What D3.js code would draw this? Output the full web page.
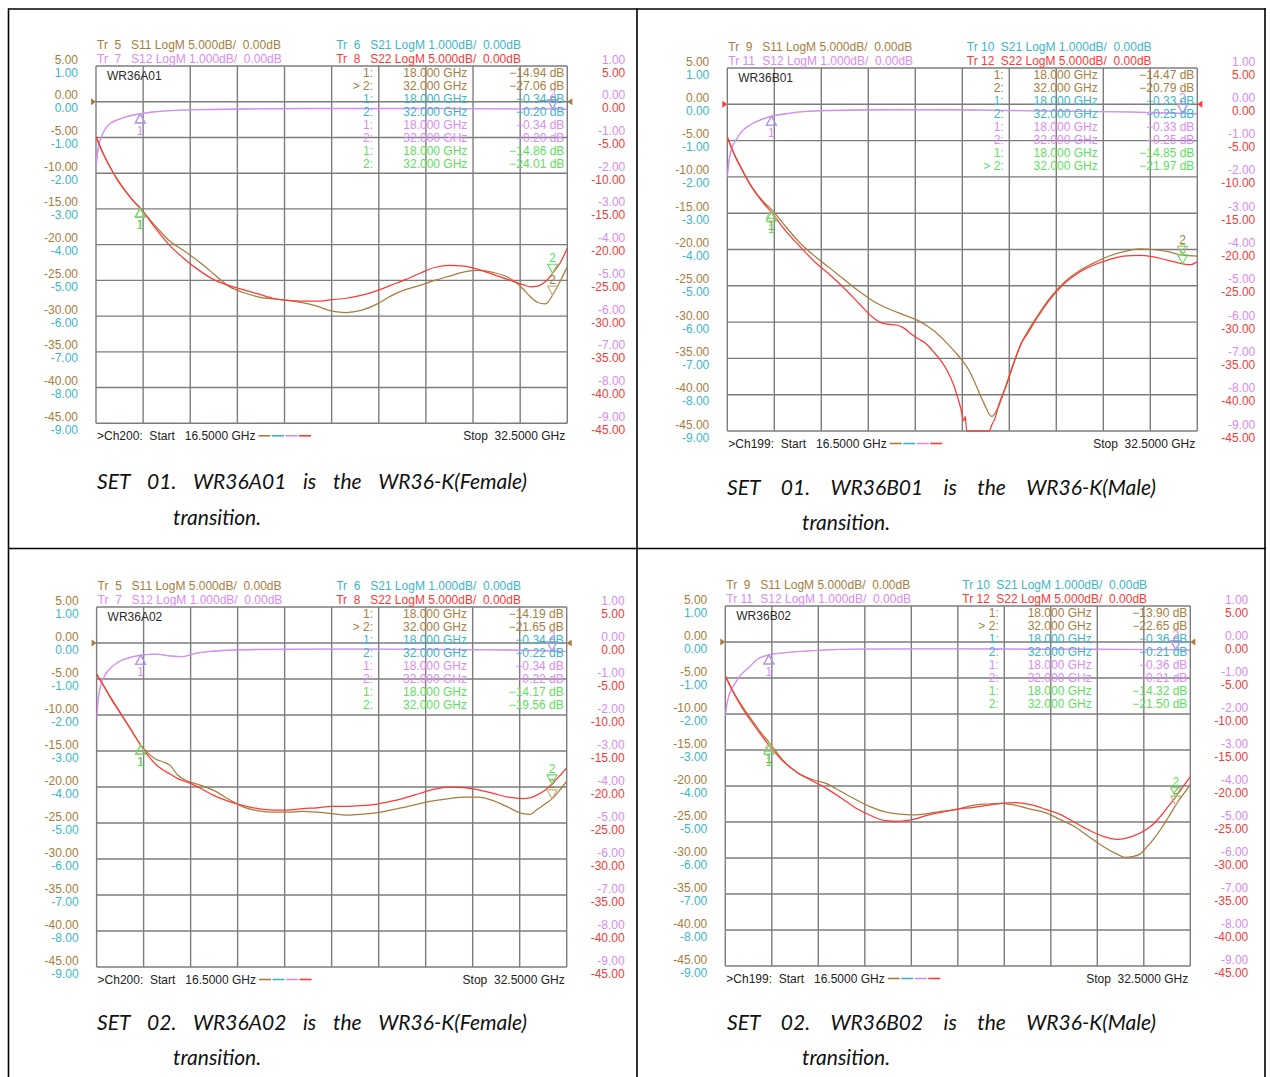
<!DOCTYPE html>
<html>
<head>
<meta charset="utf-8">
<script src="https://cdn.jsdelivr.net/npm/d3@7"></script>
<style>
  html, body { margin: 0; padding: 0; background: #fff; }
  svg text { font-family: "Liberation Sans", Arial, sans-serif; font-size: 12px; white-space: pre; }
  svg text.cap { font-family: Lato, "Open Sans", sans-serif; font-style: italic; font-size: 21px; fill: #111; }
</style>
</head>
<body>
<svg id="chart" width="1270" height="1077"></svg>
<script>
// ---- sweep and scale labels -------------------------------------------
const sweepStart = 16.5, sweepStop = 32.5;          // GHz
const markerFreqs = [18.0, 32.0];                   // GHz, markers 1 and 2
const logMag5Labels = [5, 0, -5, -10, -15, -20, -25, -30, -35, -40, -45]; // S11 / S22, 5 dB/div
const logMag1Labels = [1, 0, -1, -2, -3, -4, -5, -6, -7, -8, -9];          // S21 / S12, 1 dB/div
const paramNames = ["S11", "S21", "S12", "S22"];
const paramScales = ["5.000dB/", "1.000dB/", "1.000dB/", "5.000dB/"];

// ---- WR36A01 (female), traces 5..8 -------------------------------------
const a01S11 = [[16.5,-4.9],[16.75,-7.3],[17.0,-9.3],[17.25,-11.0],[17.5,-12.5],[17.75,-13.8],[18.0,-14.94],[18.5,-17.3],[19.0,-19.5],[19.5,-20.9],[20.0,-22.4],[20.5,-24.1],[21.0,-25.8],[21.5,-26.7],[22.0,-27.3],[22.5,-27.6],[23.0,-27.8],[23.5,-28.1],[24.0,-28.6],[24.5,-29.3],[25.0,-29.5],[25.5,-29.2],[26.0,-28.4],[26.5,-27.2],[27.0,-26.3],[27.5,-25.7],[28.0,-25.0],[28.5,-24.4],[29.0,-23.8],[29.5,-23.6],[30.0,-23.9],[30.5,-24.6],[31.0,-26.2],[31.25,-27.3],[31.5,-28.1],[31.75,-28.3],[32.0,-27.06],[32.25,-25.2],[32.5,-23.1]];
const a01S22 = [[16.5,-4.9],[16.75,-7.3],[17.0,-9.3],[17.25,-11.1],[17.5,-12.5],[17.75,-13.8],[18.0,-14.86],[18.5,-17.6],[19.0,-20.1],[19.5,-22.0],[20.0,-23.6],[20.5,-24.9],[21.0,-25.7],[21.5,-26.3],[22.0,-26.9],[22.5,-27.5],[23.0,-27.8],[23.5,-27.9],[24.0,-27.9],[24.5,-27.7],[25.0,-27.5],[25.5,-27.1],[26.0,-26.5],[26.5,-25.7],[27.0,-24.9],[27.5,-24.0],[28.0,-23.2],[28.5,-22.9],[29.0,-23.0],[29.5,-23.5],[30.0,-24.2],[30.5,-24.9],[31.0,-25.6],[31.25,-25.9],[31.5,-25.8],[31.75,-25.2],[32.0,-24.01],[32.25,-22.6],[32.5,-20.5]];
const a01S12 = [[16.5,-1.85],[16.55,-1.45],[16.6,-1.2],[16.7,-0.95],[16.85,-0.72],[17.0,-0.6],[17.25,-0.5],[17.5,-0.43],[18.0,-0.34],[18.5,-0.28],[19.0,-0.25],[20.0,-0.22],[22.0,-0.2],[24.0,-0.19],[26.0,-0.19],[28.0,-0.19],[30.0,-0.2],[32.0,-0.2],[32.5,-0.21]];
const a01Readouts = [-14.94, -27.06, -0.34, -0.20, -0.34, -0.20, -14.86, -24.01];

// ---- WR36B01 (male), traces 9..12 --------------------------------------
const b01S11 = [[16.5,-4.5],[16.75,-7.0],[17.0,-9.0],[17.25,-10.8],[17.5,-12.3],[17.75,-13.5],[18.0,-14.47],[18.5,-16.9],[19.0,-19.2],[19.5,-21.0],[20.0,-22.6],[20.5,-24.2],[21.0,-25.8],[21.5,-27.2],[22.0,-28.2],[22.5,-29.0],[23.0,-29.8],[23.5,-31.1],[24.0,-33.0],[24.25,-34.1],[24.5,-35.3],[24.75,-36.8],[25.0,-39.0],[25.25,-41.3],[25.5,-43.0],[25.75,-41.5],[26.0,-38.6],[26.25,-35.6],[26.5,-33.0],[26.75,-31.1],[27.0,-29.5],[27.5,-26.6],[28.0,-24.4],[28.5,-22.9],[29.0,-21.8],[29.5,-20.9],[30.0,-20.3],[30.5,-19.9],[31.0,-20.0],[31.5,-20.3],[32.0,-20.79],[32.5,-20.9]];
const b01S22 = [[16.5,-4.5],[16.75,-7.0],[17.0,-9.0],[17.25,-10.9],[17.5,-12.4],[17.75,-13.7],[18.0,-14.85],[18.5,-17.5],[19.0,-19.7],[19.5,-21.8],[20.0,-23.5],[20.5,-25.4],[21.0,-27.5],[21.5,-29.5],[21.75,-30.1],[22.0,-30.3],[22.25,-30.4],[22.5,-30.8],[22.75,-31.6],[23.0,-32.3],[23.25,-32.9],[23.5,-34.0],[23.75,-35.2],[24.0,-36.8],[24.2,-38.6],[24.35,-40.5],[24.45,-41.9],[24.55,-43.6],[24.6,-43.0],[24.65,-45.0],[25.0,-45.0],[25.42,-45.0],[25.5,-44.2],[25.6,-43.4],[25.75,-41.3],[26.0,-38.7],[26.25,-35.7],[26.5,-33.0],[26.75,-31.4],[27.0,-29.7],[27.5,-26.8],[28.0,-24.6],[28.5,-23.1],[29.0,-22.1],[29.5,-21.4],[30.0,-20.9],[30.5,-20.8],[31.0,-21.0],[31.5,-21.5],[32.0,-21.97],[32.25,-22.1],[32.5,-21.7]];
const b01S12 = [[16.5,-2.0],[16.55,-1.6],[16.62,-1.3],[16.72,-1.08],[16.82,-0.95],[17.0,-0.74],[17.27,-0.57],[17.6,-0.44],[18.0,-0.33],[18.5,-0.26],[19.1,-0.2],[20.0,-0.17],[22.0,-0.15],[24.0,-0.15],[26.0,-0.17],[28.0,-0.19],[30.0,-0.21],[32.0,-0.25],[32.5,-0.26]];
const b01Readouts = [-14.47, -20.79, -0.33, -0.25, -0.33, -0.25, -14.85, -21.97];

// ---- WR36A02 (female), traces 5..8 -------------------------------------
const a02S11 = [[16.5,-4.3],[16.75,-6.0],[17.0,-7.7],[17.25,-9.3],[17.5,-10.9],[17.75,-12.5],[18.0,-14.19],[18.25,-15.3],[18.5,-16.1],[18.75,-16.5],[19.0,-17.0],[19.25,-18.3],[19.5,-19.0],[19.75,-19.4],[20.0,-19.7],[20.5,-20.5],[21.0,-21.7],[21.5,-22.8],[22.0,-23.3],[22.5,-23.5],[23.0,-23.5],[23.5,-23.4],[24.0,-23.5],[24.5,-23.7],[25.0,-23.9],[25.5,-23.8],[26.0,-23.6],[26.5,-23.2],[27.0,-22.8],[27.5,-22.3],[28.0,-21.9],[28.5,-21.6],[29.0,-21.4],[29.5,-21.4],[30.0,-21.9],[30.5,-22.8],[31.0,-23.7],[31.25,-23.8],[31.5,-23.1],[31.75,-22.4],[32.0,-21.65],[32.25,-20.5],[32.5,-19.2]];
const a02S22 = [[16.5,-4.3],[16.75,-6.0],[17.0,-7.8],[17.25,-9.4],[17.5,-11.0],[17.75,-12.6],[18.0,-14.17],[18.25,-15.6],[18.5,-16.8],[18.75,-17.6],[19.0,-18.2],[19.25,-18.8],[19.5,-19.2],[19.75,-19.6],[20.0,-20.1],[20.5,-21.2],[21.0,-22.0],[21.5,-22.6],[22.0,-23.0],[22.5,-23.2],[23.0,-23.2],[23.5,-23.0],[24.0,-22.9],[24.5,-22.7],[25.0,-22.7],[25.5,-22.6],[26.0,-22.4],[26.5,-22.0],[27.0,-21.5],[27.5,-20.9],[28.0,-20.3],[28.5,-20.0],[29.0,-20.1],[29.5,-20.4],[30.0,-20.9],[30.5,-21.4],[31.0,-21.6],[31.25,-21.5],[31.5,-21.1],[31.75,-20.5],[32.0,-19.56],[32.25,-18.5],[32.5,-17.3]];
const a02S12 = [[16.5,-2.1],[16.55,-1.6],[16.62,-1.25],[16.75,-0.95],[17.0,-0.68],[17.3,-0.5],[17.6,-0.41],[18.0,-0.34],[18.5,-0.31],[19.0,-0.36],[19.4,-0.38],[19.8,-0.3],[20.3,-0.24],[21.0,-0.2],[22.0,-0.18],[24.0,-0.17],[26.0,-0.17],[28.0,-0.18],[30.0,-0.19],[32.0,-0.22],[32.5,-0.24]];
const a02Readouts = [-14.19, -21.65, -0.34, -0.22, -0.34, -0.22, -14.17, -19.56];

// ---- WR36B02 (male), traces 9..12 --------------------------------------
const b02S11 = [[16.5,-4.7],[16.75,-6.7],[17.0,-8.4],[17.25,-9.9],[17.5,-11.3],[17.75,-12.7],[18.0,-13.9],[18.5,-16.5],[19.0,-18.2],[19.5,-19.1],[20.0,-19.7],[20.5,-20.8],[21.0,-21.9],[21.5,-22.9],[22.0,-23.6],[22.5,-23.9],[23.0,-24.0],[23.5,-23.8],[24.0,-23.5],[24.5,-23.2],[25.0,-22.7],[25.5,-22.5],[26.0,-22.4],[26.5,-22.7],[27.0,-23.2],[27.5,-23.7],[28.0,-24.6],[28.5,-25.6],[29.0,-27.0],[29.5,-28.4],[30.0,-29.5],[30.25,-29.9],[30.5,-29.8],[30.75,-29.5],[31.0,-28.5],[31.25,-27.3],[31.5,-25.9],[31.75,-24.3],[32.0,-22.65],[32.25,-21.2],[32.5,-19.8]];
const b02S22 = [[16.5,-4.7],[16.75,-6.8],[17.0,-8.6],[17.25,-10.2],[17.5,-11.6],[17.75,-13.0],[18.0,-14.32],[18.5,-16.6],[19.0,-18.2],[19.5,-19.3],[20.0,-20.4],[20.5,-21.7],[21.0,-23.1],[21.5,-24.1],[22.0,-24.8],[22.5,-24.9],[23.0,-24.6],[23.5,-24.0],[24.0,-23.6],[24.5,-23.2],[25.0,-23.0],[25.5,-22.7],[26.0,-22.4],[26.5,-22.3],[27.0,-22.6],[27.5,-23.2],[28.0,-23.9],[28.5,-25.0],[29.0,-26.1],[29.5,-27.0],[30.0,-27.4],[30.5,-27.0],[31.0,-26.0],[31.25,-25.2],[31.5,-24.1],[31.75,-22.8],[32.0,-21.5],[32.25,-20.1],[32.5,-18.7]];
const b02S12 = [[16.5,-2.05],[16.55,-1.75],[16.62,-1.5],[16.72,-1.3],[16.86,-1.12],[17.0,-0.95],[17.32,-0.7],[17.6,-0.48],[18.0,-0.36],[18.5,-0.3],[19.1,-0.26],[20.0,-0.22],[21.0,-0.2],[23.0,-0.19],[25.0,-0.19],[27.0,-0.2],[29.0,-0.2],[31.0,-0.21],[32.0,-0.21],[32.5,-0.23]];
const b02Readouts = [-13.90, -22.65, -0.36, -0.21, -0.36, -0.21, -14.32, -21.50];

// ---- styling -----------------------------------------------------------
const col = {
  s11: "#a67d3d", s21: "#3db5c6", s12: "#d98cf2", s22: "#ff3838", m22: "#5de05d",
  m11: "#c9ad83", grid: "#7d7d7d", axisRed: "#f23c3c", axisViolet: "#d68ced"
};
const traceColors = [col.s11, col.s21, col.s12, col.s22];
const readoutColors = [col.s11, col.s21, col.s12, col.m22];

const panels = [
  { name: "WR36A01", left: 96, right: 567.3, top: 66, bottom: 423.3, traces: [5, 6, 7, 8], ch: "Ch200",
    s11: a01S11, s22: a01S22, s12: a01S12, readouts: a01Readouts, active: 1, refColor: col.s11,
    caption: "SET 01. WR36A01 is the WR36-K(Female)", capX: [97, 527], capY: [480, 516], cap2X: 173 },
  { name: "WR36B01", left: 727.3, right: 1197.3, top: 68, bottom: 431, traces: [9, 10, 11, 12], ch: "Ch199",
    s11: b01S11, s22: b01S22, s12: b01S12, readouts: b01Readouts, active: 7, refColor: col.s22,
    caption: "SET 01. WR36B01 is the WR36-K(Male)", capX: [727, 1156], capY: [486, 521], cap2X: 802 },
  { name: "WR36A02", left: 96.6, right: 566.7, top: 607, bottom: 967, traces: [5, 6, 7, 8], ch: "Ch200",
    s11: a02S11, s22: a02S22, s12: a02S12, readouts: a02Readouts, active: 1, refColor: col.s11,
    caption: "SET 02. WR36A02 is the WR36-K(Female)", capX: [97, 527], capY: [1021, 1056], cap2X: 173 },
  { name: "WR36B02", left: 725.3, right: 1190.3, top: 606, bottom: 966, traces: [9, 10, 11, 12], ch: "Ch199",
    s11: b02S11, s22: b02S22, s12: b02S12, readouts: b02Readouts, active: 1, refColor: col.s11,
    caption: "SET 02. WR36B02 is the WR36-K(Male)", capX: [727, 1156], capY: [1021, 1056], cap2X: 802 }
];

const svg = d3.select("#chart");
const fmt2 = d3.format(".2f");
const fmtDb = v => (v < 0 ? "-" : "") + fmt2(Math.abs(v));

// ---- table frame -------------------------------------------------------
const frame = svg.append("g").attr("stroke", "#000").attr("stroke-width", 1.6);
[8.5, 637, 1265].forEach(xv => frame.append("line").attr("x1", xv).attr("x2", xv).attr("y1", 8.5).attr("y2", 1077));
[9, 548.5].forEach(yv => frame.append("line").attr("x1", 8).attr("x2", 1266).attr("y1", yv).attr("y2", yv));

function justifiedLine(g, text, x0, x1, yc) {
  const words = text.split(" ");
  const nodes = words.map(w => g.append("text").attr("class", "cap").attr("y", yc)
    .attr("dominant-baseline", "central").text(w));
  const widths = nodes.map(n => n.node().getComputedTextLength());
  const gap = (x1 - x0 - d3.sum(widths)) / (words.length - 1);
  let xx = x0;
  nodes.forEach((n, i) => { n.attr("x", xx); xx += widths[i] + gap; });
}

function drawMarker(g, px, py, num, stroke, labelColor, withLabel) {
  const dir = num === 1 ? 1 : -1;   // marker 1 sits below the trace, marker 2 above
  g.append("path")
    .attr("d", `M${px},${py} L${px + 5},${py + dir * 9} L${px - 5},${py + dir * 9} Z`)
    .attr("fill", "none").attr("stroke", stroke).attr("stroke-width", 1.1);
  if (!withLabel) return;
  g.append("text").attr("x", px).attr("y", py + dir * (num === 1 ? 17 : 15))
    .attr("text-anchor", "middle").attr("dominant-baseline", "central")
    .attr("font-size", "11px").attr("fill", labelColor).text(num);
}

panels.forEach((p, pi) => {
  const g = svg.append("g");
  const w = p.right - p.left;
  const x = d3.scaleLinear().domain([sweepStart, sweepStop]).range([p.left, p.right]);
  const y5 = d3.scaleLinear().domain([-45, 5]).range([p.bottom, p.top]).clamp(true);
  const y1 = d3.scaleLinear().domain([-9, 1]).range([p.bottom, p.top]).clamp(true);

  // graticule: 10 x 10 divisions
  const xDivs = d3.range(11).map(i => sweepStart + i * (sweepStop - sweepStart) / 10);
  const grid = g.append("g").attr("stroke", col.grid).attr("stroke-width", 1.4);
  grid.selectAll("line.v").data(xDivs).join("line").attr("class", "v")
    .attr("x1", d => x(d)).attr("x2", d => x(d)).attr("y1", p.top).attr("y2", p.bottom);
  grid.selectAll("line.h").data(logMag5Labels).join("line").attr("class", "h")
    .attr("x1", p.left).attr("x2", p.right).attr("y1", d => y5(d)).attr("y2", d => y5(d));

  // left scale labels (S11 above, S21 below each line)
  g.selectAll("text.l5").data(logMag5Labels).join("text").attr("class", "l5")
    .attr("x", p.left - 18).attr("y", d => y5(d) - 6.5).attr("text-anchor", "end")
    .attr("dominant-baseline", "central").attr("fill", col.s11).text(fmtDb);
  g.selectAll("text.l1").data(logMag1Labels).join("text").attr("class", "l1")
    .attr("x", p.left - 18).attr("y", d => y1(d) + 6.5).attr("text-anchor", "end")
    .attr("dominant-baseline", "central").attr("fill", col.s21).text(fmtDb);
  // right scale labels (S12 above, S22 below each line)
  g.selectAll("text.r1").data(logMag1Labels).join("text").attr("class", "r1")
    .attr("x", p.right + 58).attr("y", d => y1(d) - 6.5).attr("text-anchor", "end")
    .attr("dominant-baseline", "central").attr("fill", col.axisViolet).text(fmtDb);
  g.selectAll("text.r5").data(logMag5Labels).join("text").attr("class", "r5")
    .attr("x", p.right + 58).attr("y", d => y5(d) + 6.5).attr("text-anchor", "end")
    .attr("dominant-baseline", "central").attr("fill", col.axisRed).text(fmtDb);

  // trace headers
  const headerPos = [[0, 0], [0.5075, 0], [0, 1], [0.5075, 1]];
  paramNames.forEach((s, i) => {
    const hx = p.left + 1 + headerPos[i][0] * w;
    const hy = p.top - 21 + headerPos[i][1] * 14;
    const hc = traceColors[i];
    const n = String(p.traces[i]);
    g.append("text").attr("x", hx).attr("y", hy).attr("dominant-baseline", "central").attr("fill", hc)
      .text(n.length === 1 ? `Tr  ${n}` : `Tr ${n}`);
    g.append("text").attr("x", hx + 34).attr("y", hy).attr("dominant-baseline", "central").attr("fill", hc)
      .text(`${s} LogM ${paramScales[i]}  0.00dB`);
  });

  // plot title
  g.append("text").attr("x", p.left + 11).attr("y", p.top + 9.5).attr("dominant-baseline", "central")
    .attr("fill", "#2b2b2b").text(p.name);

  // reference level arrows at 0 dB
  const y0 = y5(0);
  g.append("path").attr("d", `M${p.left},${y0} L${p.left - 5},${y0 - 3.5} L${p.left - 5},${y0 + 3.5} Z`).attr("fill", p.refColor);
  g.append("path").attr("d", `M${p.right},${y0} L${p.right + 5},${y0 - 3.5} L${p.right + 5},${y0 + 3.5} Z`).attr("fill", p.refColor);

  // traces
  const clipId = "clip" + pi;
  g.append("clipPath").attr("id", clipId).append("rect")
    .attr("x", p.left).attr("y", p.top - 1).attr("width", w).attr("height", p.bottom - p.top + 2);
  const tg = g.append("g").attr("clip-path", `url(#${clipId})`);
  const line5 = d3.line().x(d => x(d[0])).y(d => y5(d[1])).curve(d3.curveMonotoneX);
  const line1 = d3.line().x(d => x(d[0])).y(d => y1(d[1])).curve(d3.curveMonotoneX);
  // S21 is reciprocal with S12 on these passive transitions and lies beneath it
  const traces = [
    { d: p.s11, gen: line5, c: col.s11, sw: 1.25 },
    { d: p.s12, gen: line1, c: col.s21, sw: 0.5 },
    { d: p.s12, gen: line1, c: col.s12, sw: 1.35 },
    { d: p.s22, gen: line5, c: col.s22, sw: 1.25 }
  ];
  traces.forEach(t => tg.append("path").attr("d", t.gen(t.d)).attr("fill", "none")
    .attr("stroke", t.c).attr("stroke-width", t.sw).attr("stroke-linejoin", "round"));

  // marker symbols (the S21 markers sit exactly under the S12 ones)
  const markerStroke = [col.m11, col.s21, col.s12, col.m22];
  const markerLabel = [col.s11, col.s21, col.s12, col.m22];
  const markerScale = [y5, y1, y1, y5];
  [0, 1, 2, 3].forEach(ti => {
    markerFreqs.forEach((f, mi) => {
      const v = p.readouts[ti * 2 + mi];
      drawMarker(g, x(f), markerScale[ti](v), mi + 1, markerStroke[ti], markerLabel[ti], ti !== 1);
    });
  });

  // marker readout table
  for (let r = 0; r < 8; r++) {
    const ti = Math.floor(r / 2), mi = r % 2;
    const ry = p.top + 6.5 + r * 13.1;
    const rc = readoutColors[ti];
    g.append("text").attr("x", p.left + 0.588 * w).attr("y", ry).attr("text-anchor", "end")
      .attr("dominant-baseline", "central").attr("fill", rc).text((r === p.active ? "> " : "") + (mi + 1) + ":");
    g.append("text").attr("x", p.left + 0.788 * w).attr("y", ry).attr("text-anchor", "end")
      .attr("dominant-baseline", "central").attr("fill", rc).text(d3.format(".3f")(markerFreqs[mi]) + " GHz");
    g.append("text").attr("x", p.left + 0.9937 * w).attr("y", ry).attr("text-anchor", "end")
      .attr("dominant-baseline", "central").attr("fill", rc).text(fmt2(p.readouts[r]) + " dB");
  }

  // sweep annotation
  const by = p.bottom + 12.5;
  const startText = g.append("text").attr("x", p.left + 1).attr("y", by).attr("dominant-baseline", "central")
    .attr("fill", "#222").text(`>${p.ch}:  Start   ${d3.format(".4f")(sweepStart)} GHz`);
  const tEnd = p.left + 1 + startText.node().getComputedTextLength() + 3;
  traceColors.forEach((c, i) => {
    g.append("line").attr("x1", tEnd + i * 13.5).attr("x2", tEnd + i * 13.5 + 12)
      .attr("y1", by).attr("y2", by).attr("stroke", c).attr("stroke-width", 1.6);
  });
  g.append("text").attr("x", p.right - 2).attr("y", by).attr("text-anchor", "end")
    .attr("dominant-baseline", "central").attr("fill", "#222")
    .text(`Stop  ${d3.format(".4f")(sweepStop)} GHz`);

  // caption
  justifiedLine(g, p.caption, p.capX[0], p.capX[1], p.capY[0]);
  g.append("text").attr("class", "cap").attr("x", p.cap2X).attr("y", p.capY[1])
    .attr("dominant-baseline", "central").text("transition.");
});
</script>
</body>
</html>
